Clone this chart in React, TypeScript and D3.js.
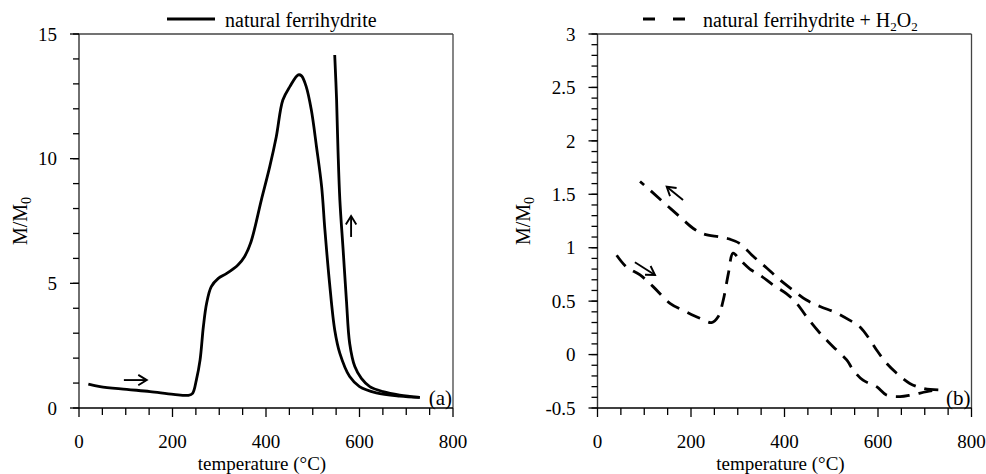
import React from "react";
import * as d3 from "d3";

// ---------- data ----------
// Panel (a): natural ferrihydrite, heating then cooling
const heatA_T = [20, 45, 102, 152, 202, 234, 243, 251, 259, 266, 273, 283, 298, 316, 340, 354, 368, 390, 408, 422, 436, 451, 469, 476, 486, 497, 508, 519, 526, 536, 547, 558, 579, 600, 636, 686, 729];
const heatA_M = [0.96, 0.86, 0.75, 0.66, 0.55, 0.51, 0.59, 1.12, 1.93, 3.26, 4.2, 4.87, 5.2, 5.4, 5.74, 6.07, 6.67, 8.34, 9.68, 10.88, 12.35, 12.89, 13.36, 13.32, 12.89, 11.95, 10.48, 8.88, 7.14, 5.0, 3.13, 2.19, 1.26, 0.86, 0.61, 0.48, 0.43];
const coolA_T = [729, 686, 650, 622, 604, 590, 579, 572, 565, 558, 554, 551, 547];
const coolA_M = [0.43, 0.52, 0.66, 0.86, 1.19, 1.66, 2.59, 4.33, 6.34, 8.34, 10.35, 12.35, 14.16];

// Panel (b): natural ferrihydrite + H2O2, heating then cooling
const heatB_T = [41, 62, 91, 119, 155, 190, 219, 244, 258, 269, 280, 290, 304, 326, 347, 376, 404, 426, 447, 476, 504, 533, 547, 568, 597, 618, 647, 672, 704, 729];
const heatB_M = [0.93, 0.82, 0.745, 0.636, 0.48, 0.4, 0.34, 0.3, 0.355, 0.51, 0.76, 0.95, 0.89, 0.8, 0.745, 0.65, 0.57, 0.48, 0.355, 0.2, 0.074, -0.05, -0.144, -0.24, -0.3, -0.378, -0.394, -0.378, -0.347, -0.33];
const coolB_T = [729, 697, 668, 640, 618, 597, 583, 561, 540, 511, 476, 447, 419, 390, 362, 333, 304, 283, 262, 226, 205, 176, 140, 112, 91];
const coolB_M = [-0.33, -0.316, -0.27, -0.175, -0.08, 0.043, 0.137, 0.26, 0.32, 0.39, 0.45, 0.51, 0.6, 0.7, 0.81, 0.92, 1.04, 1.08, 1.1, 1.13, 1.18, 1.29, 1.43, 1.54, 1.62];

// arrows (data coordinates: [T0, M0, T1, M1], tip at end)
const arrowsA = [[96, 1.12, 145, 1.12], [582, 6.86, 582, 7.7]];
const arrowsB = [[80, 0.864, 123, 0.745], [183, 1.447, 148, 1.571]];

const xTicksMajor = [0, 200, 400, 600, 800];
const yTicksA = [0, 5, 10, 15];
const yTicksB = [-0.5, 0, 0.5, 1, 1.5, 2, 2.5, 3];
const yTickLabelsB = ["-0.5", "0", "0.5", "1", "1.5", "2", "2.5", "3"];

const FONT = "'Liberation Serif', 'DejaVu Serif', serif";

function zip(t: number[], m: number[]): [number, number][] {
  return t.map((v, i) => [v, m[i]]);
}

type PanelProps = {
  x0: number; x1: number; yTop: number; yBot: number;
  yDomain: [number, number];
  yMajor: number[]; yLabels: string[]; yMinorStep: number;
  series: [number, number][][];
  dashed: boolean;
  arrows: number[][];
  tag: string;
  yTitleX: number;
  legend: React.ReactNode;
};

function Panel(p: PanelProps) {
  const x = d3.scaleLinear().domain([0, 800]).range([p.x0, p.x1]);
  const y = d3.scaleLinear().domain(p.yDomain).range([p.yBot, p.yTop]);
  const line = d3.line<[number, number]>().x(d => x(d[0])).y(d => y(d[1])).curve(d3.curveCatmullRom.alpha(0.5));
  const xMinor = d3.range(0, 801, 50);
  const nMinor = Math.round((p.yDomain[1] - p.yDomain[0]) / p.yMinorStep);
  const yMinor = d3.range(0, nMinor + 1).map(i => p.yDomain[0] + i * p.yMinorStep);
  const head = (a: number[]) => {
    const tx = x(a[2]), ty = y(a[3]);
    const sx = x(a[0]), sy = y(a[1]);
    const ang = Math.atan2(ty - sy, tx - sx);
    const L = 10, w = 0.55;
    const p1 = [tx - L * Math.cos(ang - w), ty - L * Math.sin(ang - w)];
    const p2 = [tx - L * Math.cos(ang + w), ty - L * Math.sin(ang + w)];
    return `M${p1[0]},${p1[1]}L${tx},${ty}L${p2[0]},${p2[1]}`;
  };
  return (
    <g>
      {/* frame */}
      <line x1={p.x0} x2={p.x1} y1={p.yTop} y2={p.yTop} stroke="#444" strokeWidth={1.3} />
      <line x1={p.x1} x2={p.x1} y1={p.yTop} y2={p.yBot} stroke="#444" strokeWidth={1.3} />
      <line x1={p.x0} x2={p.x0} y1={p.yTop} y2={p.yBot} stroke="#333" strokeWidth={1.4} />
      <line x1={p.x0} x2={p.x1} y1={p.yBot} y2={p.yBot} stroke="#000" strokeWidth={1.4} />
      {/* x ticks */}
      {xMinor.map(t => (
        <line key={"xt" + t} x1={x(t)} x2={x(t)} y1={p.yBot} y2={p.yBot + (t % 200 === 0 ? 9 : 7)} stroke="#000" strokeWidth={1.3} />
      ))}
      {xTicksMajor.map(t => (
        <text key={"xl" + t} x={x(t)} y={p.yBot + 40} textAnchor="middle" fontFamily={FONT} fontSize={19}>{t}</text>
      ))}
      {/* y ticks */}
      {yMinor.map((v, i) => (
        <line key={"yt" + i} x1={p.x0 - 6} x2={p.x0} y1={y(v)} y2={y(v)} stroke="#000" strokeWidth={1.3} />
      ))}
      {p.yMajor.map((v, i) => (
        <g key={"yl" + i}>
          <line x1={p.x0 - 9} x2={p.x0} y1={y(v)} y2={y(v)} stroke="#000" strokeWidth={1.3} />
          <text x={p.x0 - 22} y={y(v)} dy="0.35em" textAnchor="end" fontFamily={FONT} fontSize={19}>{p.yLabels[i]}</text>
        </g>
      ))}
      {/* titles */}
      <text x={(p.x0 + p.x1) / 2 - 4} y={470} textAnchor="middle" fontFamily={FONT} fontSize={19}>temperature (°C)</text>
      <text transform={`translate(${p.yTitleX},221) rotate(-90)`} textAnchor="middle" fontFamily={FONT} fontSize={20}>
        M/M<tspan fontSize={14} dy="4">0</tspan>
      </text>
      {/* data */}
      {p.series.map((s, i) => (
        <path key={"s" + i} d={line(s) || ""} fill="none" stroke="#000" strokeWidth={2.8}
          strokeDasharray={p.dashed ? "14,9" : undefined} strokeLinejoin="round" />
      ))}
      {/* arrows */}
      {p.arrows.map((a, i) => (
        <g key={"a" + i} stroke="#000" strokeWidth={1.9} fill="none">
          <line x1={x(a[0])} y1={y(a[1])} x2={x(a[2])} y2={y(a[3])} />
          <path d={head(a)} />
        </g>
      ))}
      <text x={p.x1 - 1} y={p.yBot - 3} textAnchor="end" fontFamily={FONT} fontSize={21}>{p.tag}</text>
      {p.legend}
    </g>
  );
}

export default function App() {
  return (
    <svg width={986} height={474} style={{ position: "absolute", left: 0, top: 0, background: "#fff" }}>
      <rect width={986} height={474} fill="#fff" />
      <Panel
        x0={79} x1={453} yTop={34} yBot={408}
        yDomain={[0, 15]} yMajor={yTicksA} yLabels={yTicksA.map(String)} yMinorStep={1}
        series={[zip(heatA_T, heatA_M), zip(coolA_T, coolA_M)]}
        dashed={false} arrows={arrowsA} tag="(a)" yTitleX={27}
        legend={
          <g>
            <line x1={167} x2={215} y1={19} y2={19} stroke="#000" strokeWidth={2.8} />
            <text x={225} y={27} fontFamily={FONT} fontSize={20}>natural ferrihydrite</text>
          </g>
        }
      />
      <Panel
        x0={597.5} x1={971.5} yTop={34} yBot={408}
        yDomain={[-0.5, 3]} yMajor={yTicksB} yLabels={yTickLabelsB} yMinorStep={0.1}
        series={[zip(heatB_T, heatB_M), zip(coolB_T, coolB_M)]}
        dashed={true} arrows={arrowsB} tag="(b)" yTitleX={530}
        legend={
          <g>
            <line x1={643} x2={686} y1={19} y2={19} stroke="#000" strokeWidth={2.8} strokeDasharray="12,18" />
            <text x={703} y={27} fontFamily={FONT} fontSize={20}>
              natural ferrihydrite + H<tspan fontSize={13} dy="4">2</tspan><tspan dy="-4">O</tspan><tspan fontSize={13} dy="4">2</tspan>
            </text>
          </g>
        }
      />
    </svg>
  );
}
